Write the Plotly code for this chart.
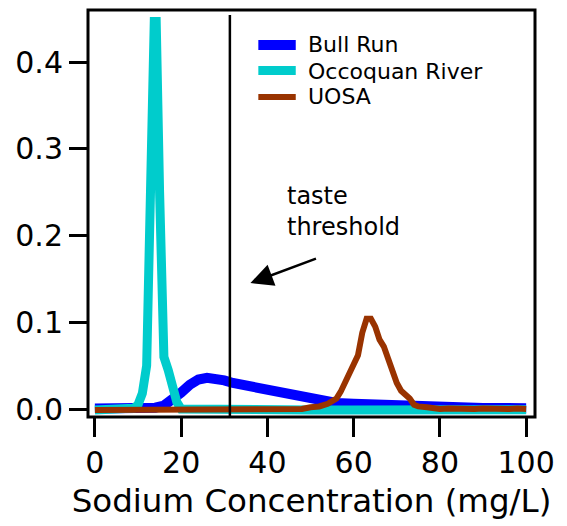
import plotly.graph_objects as go

# ---- data ----
bull_x = [0, 5, 10, 14, 16, 18, 20, 22, 24, 26, 28, 30, 32, 35, 38, 41, 44, 47, 50, 53, 56, 60, 65, 70, 75, 80, 90, 100]
bull_y = [0.0005, 0.0005, 0.0005, 0.0015, 0.004, 0.010, 0.019, 0.028, 0.034, 0.036, 0.0355, 0.033, 0.030, 0.027, 0.024, 0.021,
          0.018, 0.014, 0.0115, 0.009, 0.007, 0.006, 0.005, 0.0045, 0.003, 0.002, 0.0012, 0.001]

occ_x = [0, 5, 8, 9, 10, 11, 12, 13, 14, 15, 16, 17, 18, 19, 20, 30, 40, 50, 60, 70, 80, 90, 100]
occ_y = [-0.001, -0.001, -0.001, 0.001, 0.005, 0.018, 0.05, 0.24, 0.50, 0.25, 0.06, 0.045, 0.026, 0.008, 0.0,
         -0.001, -0.001, -0.001, -0.001, -0.001, -0.0008, -0.0008, -0.0008]

uosa_x = [0, 10, 20, 30, 40, 45, 48, 50, 52, 54, 55, 56, 57, 58, 59, 60, 61, 62, 63, 64, 65, 66, 67, 68, 69, 70,
          71, 72, 73, 74, 75, 77, 80, 82, 84, 86, 88, 90, 92, 94, 96, 98, 100]
uosa_y = [-0.0012, -0.0012, -0.0012, -0.0012, -0.0012, -0.0008, 0.0, 0.002, 0.003, 0.006, 0.009, 0.012, 0.02, 0.03,
          0.04, 0.05, 0.062, 0.088, 0.104, 0.104, 0.095, 0.08, 0.072, 0.058, 0.043, 0.03, 0.021, 0.017, 0.012,
          0.005, 0.003, 0.002, 0.0, 0.0005, 0.0, 0.0005, 0.0, 0.0005, 0.0, 0.0005, 0.0, 0.0005, 0.0]

names = ["Bull Run", "Occoquan River", "UOSA"]
colors = ["#0000FF", "#00CCCC", "#993300"]
widths = [10, 9, 6]

x_ticks = [0, 20, 40, 60, 80, 100]
y_ticks = [0.0, 0.1, 0.2, 0.3, 0.4]
y_tick_text = ["0.0", "0.1", "0.2", "0.3", "0.4"]
threshold = 31.3
x_title = "Sodium Concentration (mg/L)"
note_text = "taste<br>threshold"

FONT = "DejaVu Sans"
W, H = 567, 526
ML, MR, MT, MB = 88, 25, 17, 109
PW, PH = W - ML - MR, H - MT - MB


def px_x(p):
    return (p - ML) / PW


def px_y(p):
    return (H - MB - p) / PH


fig = go.Figure()
for xs, ys, nm, col, w in zip([bull_x, occ_x, uosa_x], [bull_y, occ_y, uosa_y], names, colors, widths):
    fig.add_trace(go.Scatter(x=xs, y=ys, mode="lines", name=nm, showlegend=False,
                             line=dict(color=col, width=w, shape="linear")))

fig.update_layout(
    width=W, height=H,
    margin=dict(l=ML, r=MR, t=MT, b=MB),
    paper_bgcolor="white", plot_bgcolor="white",
    font=dict(family=FONT, color="black"),
    showlegend=False,
    xaxis=dict(range=[-1.6, 102.05], tickvals=x_ticks, ticks="outside", ticklen=19, tickwidth=3,
               tickcolor="black", showgrid=False, zeroline=False, showline=False,
               tickfont=dict(size=30, family=FONT),
               title=dict(text=x_title, font=dict(size=32.5, family=FONT), standoff=10)),
    yaxis=dict(range=[-0.0092, 0.4519], tickvals=y_ticks, ticktext=y_tick_text, ticks="outside",
               ticklen=18, tickwidth=3, tickcolor="black", showgrid=False, zeroline=False,
               showline=False, tickfont=dict(size=30, family=FONT)),
)

# frame
fig.add_shape(type="rect", xref="paper", yref="paper", x0=0, x1=1, y0=0, y1=px_y(10),
              line=dict(color="black", width=3), fillcolor="rgba(0,0,0,0)", layer="above")
# taste threshold line
fig.add_shape(type="line", xref="x", yref="paper", x0=threshold, x1=threshold, y0=0, y1=px_y(15),
              line=dict(color="black", width=2.5), layer="above")

# legend (drawn as line samples + text)
leg_line_y = [45, 70.5, 97]
leg_text_y = [45, 72, 96.2]
for nm, col, w, ly, ty in zip(names, colors, widths, leg_line_y, leg_text_y):
    fig.add_shape(type="line", xref="paper", yref="paper", x0=px_x(261), x1=px_x(299),
                  y0=px_y(ly), y1=px_y(ly), line=dict(color=col, width=w))
    fig.add_annotation(x=px_x(309), y=px_y(ty), xref="paper", yref="paper", text=nm, showarrow=False,
                       xanchor="left", yanchor="middle", font=dict(size=22, family=FONT))

fig.add_annotation(x=44.0, y=0.2277, xref="x", yref="y", text=note_text, showarrow=False,
                   xanchor="left", yanchor="middle", align="left", font=dict(size=24, family=FONT))
fig.add_annotation(x=36.07, y=0.1452, xref="x", yref="y", text="", showarrow=True,
                   ax=67, ay=-25, arrowhead=2, arrowsize=1.8, arrowwidth=2.5, arrowcolor="black")

fig.write_html("out.html")
